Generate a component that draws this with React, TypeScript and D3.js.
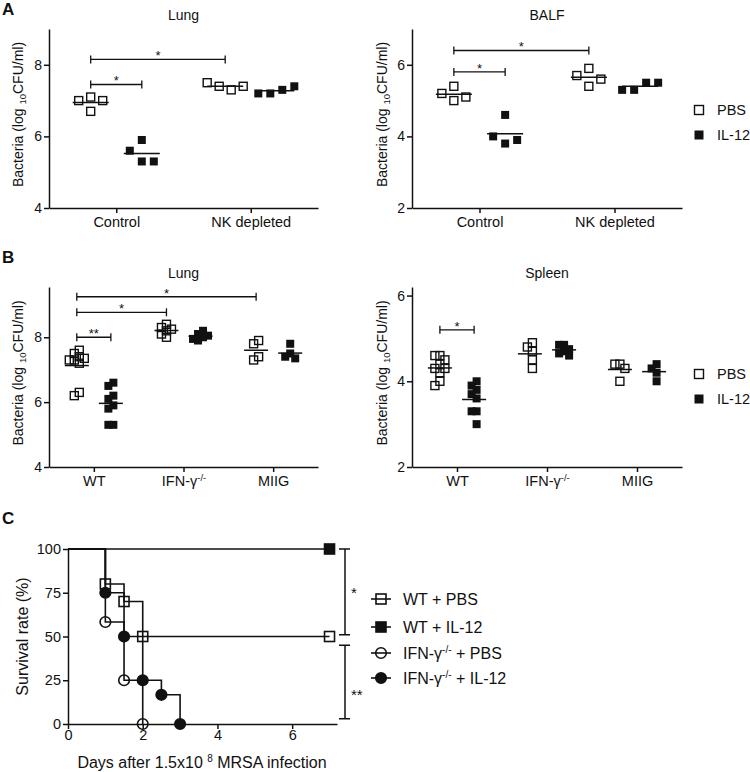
import React, { useRef, useEffect } from 'react';
import * as d3 from 'd3';

const FONT = "'Liberation Sans', Arial, Helvetica, sans-serif";
const INK = '#111';

const seriesNames = ['PBS', 'IL-12'];

// panel A categories / ticks
const groupsA = ['Control', 'NK depleted'];
const ticksHigh = [4, 6, 8];
const ticksLow = [2, 4, 6];

// panel A, lung
const lungCtrlPBS = [7.1, 7.0, 7.0, 6.7];
const lungCtrlIL12 = [5.9, 5.6, 5.3, 5.3];
const lungNkPBS = [7.3, 7.4, 7.4, 7.5];
const lungNkIL12 = [7.3, 7.2, 7.4, 7.2];

// panel A, BALF
const balfCtrlPBS = [5.4, 5.2, 5.1, 5.0];
const balfCtrlIL12 = [4.6, 3.8, 4.0, 3.9];
const balfNkPBS = [5.9, 5.4, 5.7, 5.6];
const balfNkIL12 = [5.5, 5.3, 5.5, 5.3];

// panel B categories ('^' marks a superscript)
const groupsB = ['WT', 'IFN-γ^-/-', 'MIIG'];

// panel B, lung
const bLungWtPBS = [7.6, 7.5, 7.4, 7.35, 7.3, 7.3, 7.2, 6.3, 6.2];
const bLungWtIL12 = [6.6, 6.5, 6.2, 6.1, 5.9, 5.8, 5.3, 5.3];
const bLungIfnPBS = [8.4, 8.3, 8.25, 8.2, 8.1, 8.0];
const bLungIfnIL12 = [8.2, 8.1, 8.05, 8.0, 7.95, 7.9];
const bLungMiigPBS = [7.9, 7.8, 7.4, 7.3];
const bLungMiigIL12 = [7.8, 7.5, 7.4, 7.35];

// panel B, spleen
const spWtPBS = [4.6, 4.6, 4.5, 4.4, 4.3, 4.3, 4.2, 4.0, 3.9];
const spWtIL12 = [4.0, 3.9, 3.8, 3.7, 3.6, 3.3, 3.3, 3.0];
const spIfnPBS = [4.9, 4.8, 4.7, 4.5, 4.3];
const spIfnIL12 = [4.85, 4.85, 4.75, 4.7, 4.65, 4.6];
const spMiigPBS = [4.4, 4.4, 4.3, 4.0];
const spMiigIL12 = [4.4, 4.3, 4.2, 4.0];

// panel C, survival (%)
const wtPbsDays = [0, 1, 1.5, 2, 7];
const wtPbsSurv = [100, 80, 70, 50, 50];
const wtIl12Days = [0, 7];
const wtIl12Surv = [100, 100];
const ifnPbsDays = [0, 1, 1.5, 2];
const ifnPbsSurv = [100, 58.3, 25, 0];
const ifnIl12Days = [0, 1, 1.5, 2, 2.5, 3];
const ifnIl12Surv = [100, 75, 50, 25, 16.7, 0];
const survTicksY = [0, 25, 50, 75, 100];
const survTicksX = [0, 2, 4, 6];

const scatterPanels = [
  {
    title: 'Lung', left: 49, right: 318, top: 29, bottom: 208, yDomain: [4, 9], yTicks: ticksHigh,
    groups: groupsA, step: 12, gap: 12, half: 18, labelX: 18, titleY: 20, legendY: null,
    columns: [
      { group: 'Control', series: 'PBS', values: lungCtrlPBS },
      { group: 'Control', series: 'IL-12', values: lungCtrlIL12 },
      { group: 'NK depleted', series: 'PBS', values: lungNkPBS },
      { group: 'NK depleted', series: 'IL-12', values: lungNkIL12 },
    ],
    brackets: [
      { from: ['Control', 'PBS'], to: ['Control', 'IL-12'], y: 7.45, label: '*' },
      { from: ['Control', 'PBS'], to: ['NK depleted', 'PBS'], y: 8.15, label: '*' },
    ],
  },
  {
    title: 'BALF', left: 412, right: 682, top: 29, bottom: 208, yDomain: [2, 7], yTicks: ticksLow,
    groups: groupsA, step: 12, gap: 12, half: 18, labelX: 382, titleY: 20, legendY: 110,
    columns: [
      { group: 'Control', series: 'PBS', values: balfCtrlPBS },
      { group: 'Control', series: 'IL-12', values: balfCtrlIL12 },
      { group: 'NK depleted', series: 'PBS', values: balfNkPBS },
      { group: 'NK depleted', series: 'IL-12', values: balfNkIL12 },
    ],
    brackets: [
      { from: ['Control', 'PBS'], to: ['Control', 'IL-12'], y: 5.8, label: '*' },
      { from: ['Control', 'PBS'], to: ['NK depleted', 'PBS'], y: 6.4, label: '*' },
    ],
  },
  {
    title: 'Lung', left: 49, right: 318, top: 287, bottom: 467, yDomain: [4, 9.55], yTicks: ticksHigh,
    groups: groupsB, step: 5, gap: 6, half: 12, labelX: 18, titleY: 278, legendY: null,
    columns: [
      { group: 'WT', series: 'PBS', values: bLungWtPBS },
      { group: 'WT', series: 'IL-12', values: bLungWtIL12 },
      { group: 'IFN-γ^-/-', series: 'PBS', values: bLungIfnPBS },
      { group: 'IFN-γ^-/-', series: 'IL-12', values: bLungIfnIL12 },
      { group: 'MIIG', series: 'PBS', values: bLungMiigPBS },
      { group: 'MIIG', series: 'IL-12', values: bLungMiigIL12 },
    ],
    brackets: [
      { from: ['WT', 'PBS'], to: ['WT', 'IL-12'], y: 8.0, label: '**' },
      { from: ['WT', 'PBS'], to: ['IFN-γ^-/-', 'PBS'], y: 8.77, label: '*' },
      { from: ['WT', 'PBS'], to: ['MIIG', 'PBS'], y: 9.25, label: '*' },
    ],
  },
  {
    title: 'Spleen', left: 412, right: 682, top: 287, bottom: 467, yDomain: [2, 6.2], yTicks: ticksLow,
    groups: groupsB, step: 5, gap: 6, half: 12, labelX: 382, titleY: 278, legendY: 374,
    columns: [
      { group: 'WT', series: 'PBS', values: spWtPBS },
      { group: 'WT', series: 'IL-12', values: spWtIL12 },
      { group: 'IFN-γ^-/-', series: 'PBS', values: spIfnPBS },
      { group: 'IFN-γ^-/-', series: 'IL-12', values: spIfnIL12 },
      { group: 'MIIG', series: 'PBS', values: spMiigPBS },
      { group: 'MIIG', series: 'IL-12', values: spMiigIL12 },
    ],
    brackets: [{ from: ['WT', 'PBS'], to: ['WT', 'IL-12'], y: 5.2, label: '*' }],
  },
];

const survivalSeries = [
  { name: 'WT + PBS', days: wtPbsDays, surv: wtPbsSurv, shape: 'square', filled: false },
  { name: 'WT + IL-12', days: wtIl12Days, surv: wtIl12Surv, shape: 'square', filled: true },
  { name: 'IFN-γ^-/-^ + PBS', days: ifnPbsDays, surv: ifnPbsSurv, shape: 'circle', filled: false },
  { name: 'IFN-γ^-/-^ + IL-12', days: ifnIl12Days, surv: ifnIl12Surv, shape: 'circle', filled: true },
];

const survivalSig = [
  { top: 100, bottom: 51, label: '*', at: 72 },
  { top: 45, bottom: 3, label: '**', at: 14 },
];

// text with '^' toggling superscript parts
function richText(sel, str, supSize, shift) {
  str.split('^').forEach((part, i) => {
    if (!part) return;
    const t = sel.append('tspan').text(part);
    if (i % 2 === 1) t.attr('font-size', supSize).attr('dy', -shift);
    else if (i > 0) t.attr('dy', shift);
  });
}

// horizontal spread for overlapping points
function swarm(values, y, step, gap) {
  const placed = [];
  values.forEach((v) => {
    const py = y(v);
    for (let k = 0; k < 30; k++) {
      const dx = k === 0 ? 0 : (k % 2 ? -1 : 1) * Math.ceil(k / 2) * step;
      const free = placed.every((p) => Math.abs(p.dx - dx) >= step * 0.99 || Math.abs(p.py - py) >= gap);
      if (free) {
        placed.push({ dx, py });
        break;
      }
    }
  });
  const [lo, hi] = d3.extent(placed, (p) => p.dx);
  const c = (lo + hi) / 2;
  return placed.map((p) => p.dx - c);
}

function styleAxis(g, size) {
  g.select('.domain').attr('stroke', INK).attr('stroke-width', 1.5);
  g.selectAll('.tick line').attr('stroke', INK).attr('stroke-width', 1.5);
  g.selectAll('.tick text').attr('fill', INK).attr('font-size', size).attr('font-family', FONT);
}

function drawScatter(root, p) {
  const g = root.append('g');
  const x = d3.scalePoint().domain(p.groups).range([p.left, p.right]).padding(0.5);
  const xs = d3.scalePoint().domain(seriesNames).range([-0.19 * x.step(), 0.19 * x.step()]);
  const y = d3.scaleLinear().domain(p.yDomain).range([p.bottom, p.top]);
  const cx = (grp, s) => x(grp) + xs(s);

  const ya = g.append('g').attr('transform', `translate(${p.left},0)`)
    .call(d3.axisLeft(y).tickValues(p.yTicks).tickFormat(d3.format('d')).tickSize(5).tickSizeOuter(0).tickPadding(2));
  styleAxis(ya, 14);

  const xa = g.append('g').attr('transform', `translate(0,${p.bottom})`)
    .call(d3.axisBottom(x).tickSize(5).tickSizeOuter(0).tickPadding(4).tickFormat(() => ''));
  styleAxis(xa, 14.5);
  xa.selectAll('.tick text').each(function (d) {
    const t = d3.select(this).attr('dy', '0.71em');
    richText(t, d, 9.5, 5);
  });

  g.append('text').attr('x', (p.left + p.right) / 2).attr('y', p.titleY)
    .attr('text-anchor', 'middle').attr('font-size', 14).attr('font-family', FONT).attr('fill', INK)
    .text(p.title);

  const mid = (p.top + p.bottom) / 2 - 4;
  const yl = g.append('text').attr('transform', `translate(${p.labelX},${mid}) rotate(-90)`)
    .attr('text-anchor', 'middle').attr('dy', '0.35em').attr('font-size', 14).attr('font-family', FONT).attr('fill', INK);
  yl.append('tspan').text('Bacteria (log ');
  yl.append('tspan').attr('font-size', 9.5).attr('dy', 3).text('10');
  yl.append('tspan').attr('dy', -3).text('CFU/ml)');

  // brackets
  p.brackets.forEach((b) => {
    const x1 = cx(b.from[0], b.from[1]);
    const x2 = cx(b.to[0], b.to[1]);
    const yy = y(b.y);
    const bg = g.append('g').attr('stroke', INK).attr('stroke-width', 1.3);
    bg.append('line').attr('x1', x1).attr('x2', x2).attr('y1', yy).attr('y2', yy);
    [x1, x2].forEach((xx) => bg.append('line').attr('x1', xx).attr('x2', xx).attr('y1', yy - 4).attr('y2', yy + 4));
    g.append('text').attr('x', (x1 + x2) / 2).attr('y', yy + 1).attr('text-anchor', 'middle')
      .attr('font-size', 13).attr('font-family', FONT).attr('fill', INK).text(b.label);
  });

  // points and mean lines
  const size = 8;
  p.columns.forEach((c) => {
    const center = cx(c.group, c.series);
    const offs = swarm(c.values, y, p.step, p.gap);
    const filled = c.series === 'IL-12';
    g.append('g').selectAll('rect').data(c.values).join('rect')
      .attr('x', (d, i) => center + offs[i] - size / 2)
      .attr('y', (d) => y(d) - size / 2)
      .attr('width', size).attr('height', size)
      .attr('fill', filled ? INK : 'none')
      .attr('stroke', INK).attr('stroke-width', filled ? 0 : 1.4);
    const m = d3.mean(c.values);
    g.append('line').attr('x1', center - p.half).attr('x2', center + p.half)
      .attr('y1', y(m)).attr('y2', y(m)).attr('stroke', INK).attr('stroke-width', 1.5);
  });

  if (p.legendY != null) {
    seriesNames.forEach((s, i) => {
      const ly = p.legendY + i * 25;
      g.append('rect').attr('x', 699 - 4.5).attr('y', ly - 4.5).attr('width', 9).attr('height', 9)
        .attr('fill', i ? INK : 'none').attr('stroke', INK).attr('stroke-width', i ? 0 : 1.4);
      g.append('text').attr('x', 717).attr('y', ly).attr('dy', '0.35em').attr('font-size', 14.5)
        .attr('font-family', FONT).attr('fill', INK).text(s);
    });
  }
}

function drawMarker(g, shape, filled, px, py) {
  if (shape === 'square') {
    g.append('rect').attr('x', px - 5).attr('y', py - 5).attr('width', 10).attr('height', 10)
      .attr('fill', filled ? INK : 'none').attr('stroke', INK).attr('stroke-width', 1.6);
  } else {
    g.append('circle').attr('cx', px).attr('cy', py).attr('r', 5.3)
      .attr('fill', filled ? INK : 'none').attr('stroke', INK).attr('stroke-width', 1.6);
  }
}

function drawSurvival(root) {
  const g = root.append('g');
  const left = 68, right = 337, top = 549, bottom = 724;
  const x = d3.scaleLinear().domain([0, 7.2]).range([left, right]);
  const y = d3.scaleLinear().domain([0, 100]).range([bottom, top]);

  const ya = g.append('g').attr('transform', `translate(${left},0)`)
    .call(d3.axisLeft(y).tickValues(survTicksY).tickSize(5).tickSizeOuter(0).tickPadding(2));
  styleAxis(ya, 14.5);
  const xa = g.append('g').attr('transform', `translate(0,${bottom})`)
    .call(d3.axisBottom(x).tickValues(survTicksX).tickSize(5).tickSizeOuter(0).tickPadding(1));
  styleAxis(xa, 14.5);

  const line = d3.line().x((d) => x(d[0])).y((d) => y(d[1])).curve(d3.curveStepAfter);
  survivalSeries.forEach((s) => {
    const pts = s.days.map((d, i) => [d, s.surv[i]]);
    g.append('path').attr('d', line(pts)).attr('fill', 'none').attr('stroke', INK).attr('stroke-width', 1.6);
  });
  survivalSeries.forEach((s) => {
    s.days.forEach((d, i) => {
      if (i > 0) drawMarker(g, s.shape, s.filled, x(d), y(s.surv[i]));
    });
  });

  survivalSig.forEach((b) => {
    const bg = g.append('g').attr('stroke', INK).attr('stroke-width', 1.5);
    bg.append('line').attr('x1', 345).attr('x2', 345).attr('y1', y(b.top)).attr('y2', y(b.bottom));
    [b.top, b.bottom].forEach((v) => bg.append('line').attr('x1', 339).attr('x2', 350).attr('y1', y(v)).attr('y2', y(v)));
    g.append('text').attr('x', 351).attr('y', y(b.at)).attr('font-size', 15).attr('font-family', FONT)
      .attr('fill', INK).text(b.label);
  });

  // legend
  const rows = [599, 627, 653, 678];
  survivalSeries.forEach((s, i) => {
    const ly = rows[i];
    g.append('line').attr('x1', 371).attr('x2', 391).attr('y1', ly).attr('y2', ly).attr('stroke', INK).attr('stroke-width', 1.6);
    drawMarker(g, s.shape, s.filled, 381, ly);
    const t = g.append('text').attr('x', 403).attr('y', ly).attr('dy', '0.35em').attr('font-size', 16)
      .attr('font-family', FONT).attr('fill', INK);
    richText(t, s.name, 10, 6);
  });

  const xl = g.append('text').attr('x', 202).attr('y', 768).attr('text-anchor', 'middle').attr('font-size', 16)
    .attr('font-family', FONT).attr('fill', INK);
  xl.append('tspan').text('Days after 1.5x10 ');
  xl.append('tspan').attr('font-size', 10).attr('dy', -6).text('8');
  xl.append('tspan').attr('dy', 6).text(' MRSA infection');

  g.append('text').attr('transform', `translate(22,${(top + bottom) / 2}) rotate(-90)`).attr('text-anchor', 'middle')
    .attr('dy', '0.35em').attr('font-size', 16).attr('font-family', FONT).attr('fill', INK).text('Survival rate (%)');
}

export default function App() {
  const svgRef = useRef(null);

  useEffect(() => {
    const svg = d3.select(svgRef.current);
    svg.selectAll('*').remove();
    svg.append('rect').attr('width', 750).attr('height', 772).attr('fill', '#fff');

    scatterPanels.forEach((p) => drawScatter(svg, p));
    drawSurvival(svg);

    // panel letters
    [['A', 15], ['B', 263], ['C', 524]].forEach(([l, yy]) => {
      svg.append('text').attr('x', 2).attr('y', yy).attr('font-size', 17).attr('font-weight', 'bold')
        .attr('font-family', FONT).attr('fill', INK).text(l);
    });
  }, []);

  return (
    <svg ref={svgRef} width={750} height={772} style={{ position: 'absolute', left: 0, top: 0 }} />
  );
}
